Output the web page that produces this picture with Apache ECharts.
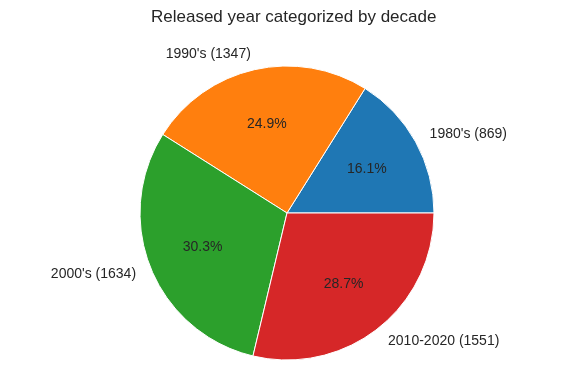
<!DOCTYPE html>
<html>
<head>
<meta charset="utf-8">
<script src="https://cdn.jsdelivr.net/npm/echarts@6/dist/echarts.min.js"></script>
<style>html,body{margin:0;padding:0;background:#fff}#c{width:564px;height:381px}</style>
</head>
<body>
<div id="c"></div>
<script>
var categories = ["1980's", "1990's", "2000's", "2010-2020"];
var counts = [869, 1347, 1634, 1551];
var colors = ['#1f77b4', '#ff7f0e', '#2ca02c', '#d62728'];
var titleText = 'Released year categorized by decade';

var total = counts.reduce(function (a, b) { return a + b; }, 0);
var R = 147;
var data = categories.map(function (c, i) {
  return { name: c, value: counts[i], itemStyle: { color: colors[i] } };
});
var data2 = categories.map(function (c, i) {
  return { name: c, value: counts[i] };
});
var font = 'Liberation Sans, Arial, sans-serif';
var chart = echarts.init(document.getElementById('c'), null, { renderer: 'canvas' });
chart.setOption({
  animation: false,
  title: {
    text: titleText, left: 146, top: 4,
    textStyle: { fontFamily: font, fontSize: 17, fontWeight: 'normal', color: '#262626' }
  },
  series: [
    {
      type: 'pie', center: [287, 213], radius: [0, R],
      startAngle: 0, clockwise: false, avoidLabelOverlap: false,
      silent: true,
      itemStyle: { borderColor: '#fff', borderWidth: 1 },
      data: data,
      label: {
        show: true, position: 'outside', distanceToLabelLine: 0,
        fontFamily: font, fontSize: 14, color: '#262626',
        formatter: function (p) { return p.name + ' (' + p.value + ')'; }
      },
      labelLine: { show: false, length: 16, length2: 0 }
    },
    {
      type: 'pie', center: [287, 213], radius: [0.2 * R, R],
      startAngle: 0, clockwise: false, avoidLabelOverlap: false,
      silent: true,
      itemStyle: { color: 'rgba(0,0,0,0)', borderWidth: 0 },
      data: data2,
      label: {
        show: true, position: 'inside',
        fontFamily: font, fontSize: 14, color: '#262626',
        formatter: function (p) { return (p.value / total * 100).toFixed(1) + '%'; }
      },
      labelLine: { show: false }
    }
  ]
});
</script>
</body>
</html>
